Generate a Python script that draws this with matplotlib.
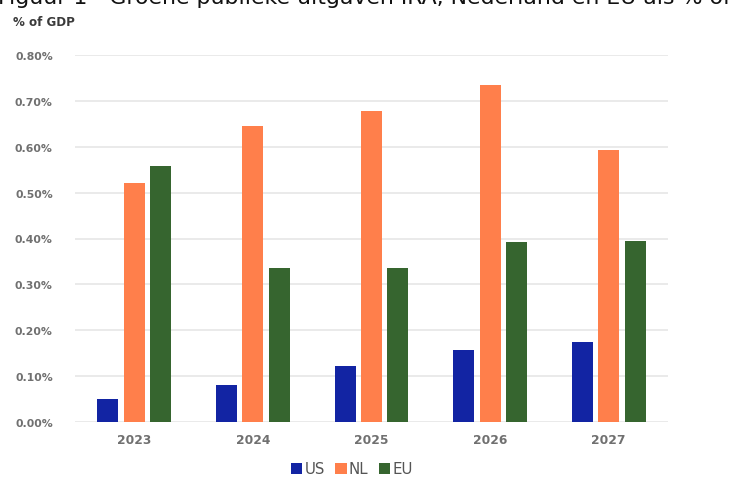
import matplotlib
matplotlib.use("Agg")
import matplotlib.pyplot as plt
import numpy as np

years = ["2023", "2024", "2025", "2026", "2027"]
series_names = ["US", "NL", "EU"]
us = [0.050, 0.081, 0.123, 0.158, 0.174]
nl = [0.520, 0.645, 0.678, 0.735, 0.593]
eu = [0.559, 0.335, 0.335, 0.393, 0.395]
yticks = [0.0, 0.1, 0.2, 0.3, 0.4, 0.5, 0.6, 0.7, 0.8]
colors = ["#1224A3", "#FF7F4B", "#36652F"]

fig = plt.figure(figsize=(7.33, 4.81), dpi=100)
ax = fig.add_axes([75/733, 58/481, 593/733, 367/481])

x = np.arange(len(years))
width = 0.177
step = 0.223
for i, (vals, name, c) in enumerate(zip([us, nl, eu], series_names, colors)):
    ax.bar(x + (i - 1) * step, vals, width=width, color=c, label=name, zorder=3)

ax.set_xlim(-0.5, len(years) - 0.5)
ax.set_ylim(0, 0.8)
ax.set_yticks(yticks)
ax.set_yticklabels([f"{v:.2f}%" for v in yticks], color="#707070", fontsize=7.8, fontweight="bold")
ax.set_xticks(x)
ax.set_xticklabels(years, color="#707070", fontsize=8.8, fontweight="bold")
ax.tick_params(axis="both", length=0)
ax.tick_params(axis="y", pad=16)
ax.tick_params(axis="x", pad=8)
ax.grid(axis="y", color="#e6e6e6", linewidth=1.2, zorder=0)
for s in ax.spines.values():
    s.set_visible(False)

fig.text(13/733, 1 - 22/481, "% of GDP", fontsize=8.6, fontweight="bold", color="#3a3a3a", va="center", ha="left")
fig.text(-2/733, 1 - 3.5/481, "Figuur 1 - Groene publieke uitgaven IRA, Nederland en EU als % of",
         fontsize=15.8, color="#111111", va="baseline", ha="left")

leg = fig.legend(loc="center", bbox_to_anchor=(352/733, 1 - 470/481), ncol=3, frameon=False,
                 handlelength=0.75, handleheight=0.75, handletextpad=0.15, columnspacing=0.7,
                 fontsize=10.8)
for t in leg.get_texts():
    t.set_color("#555555")

fig.savefig("out.png", dpi=100)
